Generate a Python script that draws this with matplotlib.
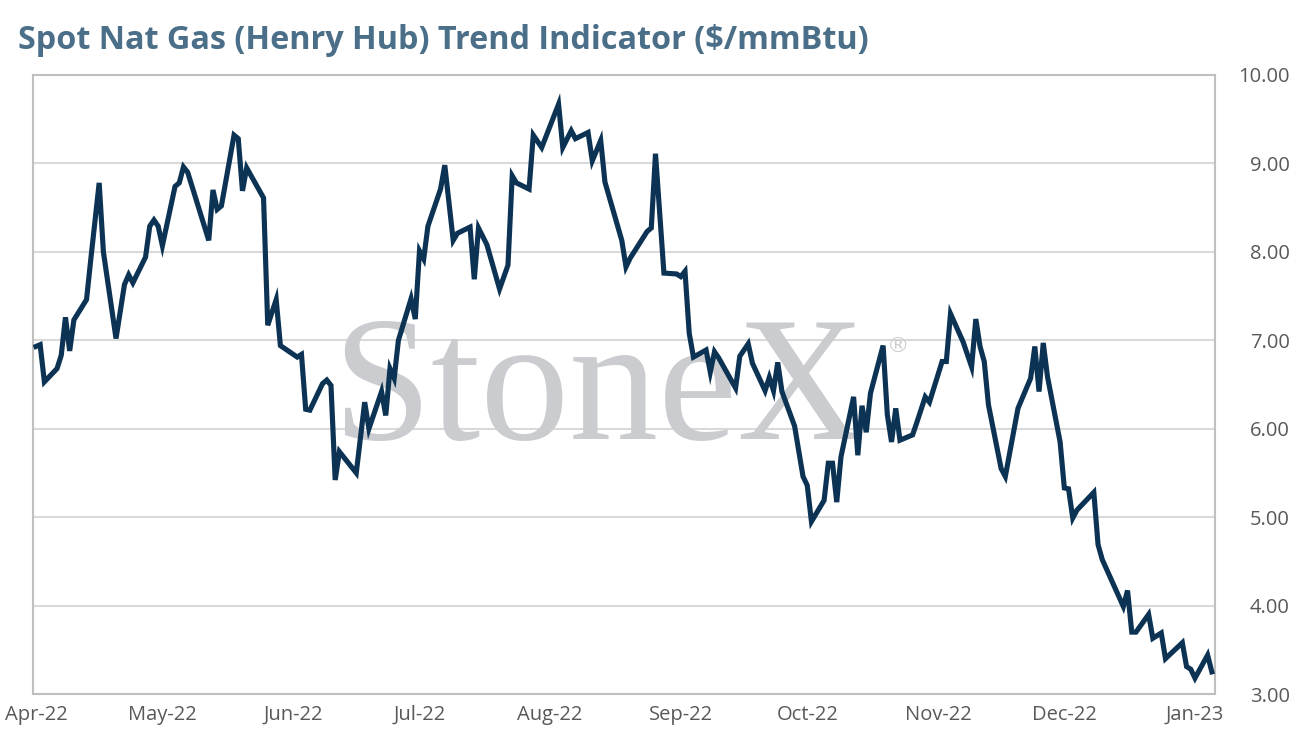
import matplotlib
matplotlib.use("Agg")
import matplotlib.pyplot as plt
import matplotlib.dates as mdates
import numpy as np
import pandas as pd

# values (days counted from 1 Apr 2022)
start_date = pd.Timestamp("2022-04-01")
day_offsets = [
    0, 1, 2, 5, 6, 7, 8, 9, 12, 13, 15, 16, 19, 21, 22, 23, 26, 27, 28, 29,
    30, 33, 34, 35, 36, 41, 42, 43, 44, 47, 48, 49, 50, 54, 55, 57, 58, 62,
    63, 64, 65, 68, 69, 70, 71, 72, 76, 78, 79, 82, 83, 84, 85, 86, 89, 90,
    91, 92, 93, 96, 97, 99, 100, 103, 104, 105, 107, 110, 112, 113, 114, 117,
    118, 120, 124, 125, 127, 128, 131, 132, 134, 135, 139, 140, 141, 145, 146,
    147, 149, 152, 153, 154, 155, 156, 159, 160, 161, 162, 166, 167, 169, 170,
    173, 174, 175, 176, 177, 180, 182, 183, 184, 187, 188, 189, 190, 191, 194,
    195, 196, 197, 198, 201, 202, 203, 204, 205, 208, 209, 211, 212, 215, 216,
    217, 220, 222, 223, 224, 225, 226, 229, 230, 233, 236, 237, 238, 239, 240,
    243, 244, 245, 246, 247, 251, 252, 253, 258, 259, 260, 261, 264, 265, 267,
    268, 272, 273, 274, 275, 278, 279,
]
spot_price = [
    6.93, 6.95, 6.53, 6.68, 6.83, 7.26, 6.88, 7.23, 7.46, 7.91, 8.78, 8.00,
    7.02, 7.63, 7.74, 7.65, 7.94, 8.29, 8.36, 8.29, 8.07, 8.74, 8.78, 8.96,
    8.90, 8.13, 8.70, 8.48, 8.52, 9.32, 9.28, 8.69, 8.95, 8.61, 7.17, 7.46,
    6.94, 6.81, 6.84, 6.22, 6.21, 6.51, 6.55, 6.49, 5.42, 5.74, 5.50, 6.30,
    6.00, 6.42, 6.15, 6.68, 6.57, 7.00, 7.47, 7.24, 8.01, 7.92, 8.29, 8.71,
    8.98, 8.13, 8.21, 8.28, 7.69, 8.27, 8.08, 7.58, 7.85, 8.86, 8.78, 8.71,
    9.32, 9.18, 9.67, 9.18, 9.37, 9.28, 9.35, 9.03, 9.26, 8.79, 8.13, 7.83,
    7.93, 8.23, 8.27, 9.11, 7.76, 7.75, 7.72, 7.78, 7.08, 6.81, 6.89, 6.64,
    6.87, 6.80, 6.46, 6.82, 6.96, 6.74, 6.43, 6.58, 6.43, 6.75, 6.42, 6.03,
    5.46, 5.36, 4.95, 5.19, 5.61, 5.61, 5.17, 5.68, 6.36, 5.70, 6.26, 5.96,
    6.40, 6.94, 6.16, 5.85, 6.23, 5.87, 5.93, 6.07, 6.36, 6.30, 6.76, 6.76,
    7.30, 6.98, 6.70, 7.24, 6.93, 6.76, 6.27, 5.55, 5.46, 6.23, 6.57, 6.93,
    6.42, 6.97, 6.59, 5.85, 5.33, 5.32, 4.99, 5.08, 5.28, 4.69, 4.52, 3.99,
    4.17, 3.70, 3.70, 3.90, 3.63, 3.69, 3.40, 3.58, 3.31, 3.28, 3.18, 3.44,
    3.25,
]
y_ticks = [3, 4, 5, 6, 7, 8, 9, 10]

dates = start_date + pd.to_timedelta(day_offsets, unit="D")

LINE_COLOR = "#0c3354"
TEXT_COLOR = "#595959"
TITLE_COLOR = "#4b6f88"
TICK_FONT = "Open Sans"

fig = plt.figure(figsize=(12.92, 7.54), dpi=100)
ax = fig.add_axes([33 / 1292, 1 - 694 / 754, (1215 - 33) / 1292, (694 - 75) / 754])

ax.plot(dates, spot_price, color=LINE_COLOR, linewidth=3.7,
        solid_joinstyle="miter", zorder=5)

ax.set_xlim(start_date - pd.Timedelta(days=0.7), start_date + pd.Timedelta(days=279.75))
ax.set_ylim(3, 10)
ax.set_yticks(y_ticks)
ax.yaxis.set_major_formatter(matplotlib.ticker.FormatStrFormatter("%.2f"))
ax.yaxis.tick_right()
ax.xaxis.set_major_locator(mdates.MonthLocator())
ax.xaxis.set_major_formatter(mdates.DateFormatter("%b-%y"))

ax.grid(axis="y", color="#d9d9d9", linewidth=1.5, zorder=2)
ax.set_axisbelow(True)
for s in ax.spines.values():
    s.set_color("#bfbfbf")
    s.set_linewidth(1.5)

ax.tick_params(axis="y", length=0, pad=54, labelsize=14.5, labelcolor=TEXT_COLOR)
for lab in ax.get_yticklabels():
    lab.set_horizontalalignment("right")
    lab.set_family(TICK_FONT)
ax.tick_params(axis="x", length=0, pad=8, labelsize=14.5, labelcolor=TEXT_COLOR)
for lab in ax.get_xticklabels():
    lab.set_family(TICK_FONT)

# watermark
ax.text(0.253, 0.412, "StoneX", transform=ax.transAxes, fontsize=128,
        family="Liberation Serif", color="#cbccd0", zorder=1, va="baseline")
ax.text(0.722, 0.553, "\u00ae", transform=ax.transAxes, fontsize=16,
        family="DejaVu Sans", color="#cbccd0", zorder=1, va="baseline")

fig.text(18 / 1292, 1 - 49 / 754, "Spot Nat Gas (Henry Hub) Trend Indicator ($/mmBtu)",
         fontsize=23.3, fontweight="bold", family="Open Sans", color=TITLE_COLOR,
         va="baseline")

fig.savefig("out.png", dpi=100)
